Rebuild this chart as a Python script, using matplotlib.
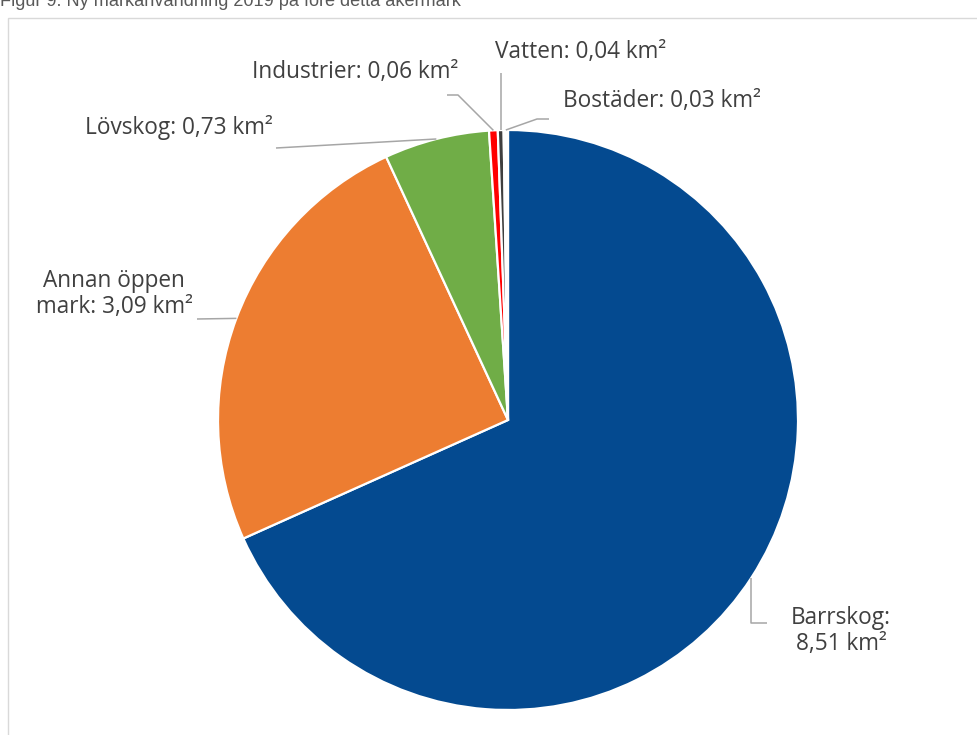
import numpy as np
import matplotlib
matplotlib.use("Agg")
import matplotlib.pyplot as plt
from matplotlib.patches import Rectangle

# data
labels = ["Barrskog", "Annan öppen\nmark", "Lövskog", "Industrier", "Vatten", "Bostäder"]
values = [8.51, 3.09, 0.73, 0.06, 0.04, 0.03]
colors = ["#044A90", "#ED7D31", "#70AD47", "#FF0000", "#3F3F3F", "#FFFFFF"]
title = "Figur 9. Ny markanvändning 2019 på före detta åkermark"

W, H = 978, 735
fig = plt.figure(figsize=(W / 100, H / 100), dpi=100)
ax = fig.add_axes([0, 0, 1, 1])
ax.axis("off")

# chart frame (partly outside the picture)
ax.add_patch(Rectangle((8, -20), 1100, H - 18 + 20, fill=False,
                       edgecolor="#D9D9D9", lw=1, clip_on=False))

cx, cy, r = 508, H - 420, 290
wedges, _ = ax.pie(values, colors=colors, startangle=90, counterclock=False,
                   center=(cx, cy), radius=r,
                   wedgeprops=dict(edgecolor="white", linewidth=1.6))
ax.set_xlim(0, W)
ax.set_ylim(0, H)
ax.set_aspect("equal")

def fmt(v):
    return f"{v:.2f}".replace(".", ",") + " km²"

# label layout: text position, alignment, leader path after the rim point (pixels from top-left)
layout = [
    dict(xy=(841, 631), ha="center", sep=":\n", path=[("rim", 623), (767, 623)]),
    dict(xy=(114, 294), ha="center", sep=": ", path=[(197, 319)]),
    dict(xy=(85, 127), ha="left", sep=": ", path=[(276, 148)]),
    dict(xy=(252, 72), ha="left", sep=": ", path=[(458, 95), (447, 95)]),
    dict(xy=(495, 52), ha="left", sep=": ", path=[("rim", 73)]),
    dict(xy=(563, 101), ha="left", sep=": ", path=[(537, 119), (549, 119)]),
]

font = dict(family=["Open Sans", "DejaVu Sans"], size=16.3, color="#404040")
for w, lab, v, lay in zip(wedges, labels, values, layout):
    th = np.deg2rad((w.theta1 + w.theta2) / 2)
    rx, ry = cx + r * np.cos(th), cy + r * np.sin(th)
    xs, ys = [rx], [ry]
    for px, pyy in lay["path"]:
        xs.append(rx if px == "rim" else px)
        ys.append(H - pyy)
    ax.plot(xs, ys, color="#A6A6A6", lw=1.1, solid_capstyle="butt")
    ax.text(lay["xy"][0], H - lay["xy"][1], lab + lay["sep"] + fmt(v),
            ha=lay["ha"], va="center", multialignment="center", linespacing=1.1, **font)

fig.text(0, 1 - 6 / H, title, ha="left", va="baseline",
         family=["Liberation Sans", "DejaVu Sans"], size=13.1, color="#595959")

fig.savefig("out.png", dpi=100)
